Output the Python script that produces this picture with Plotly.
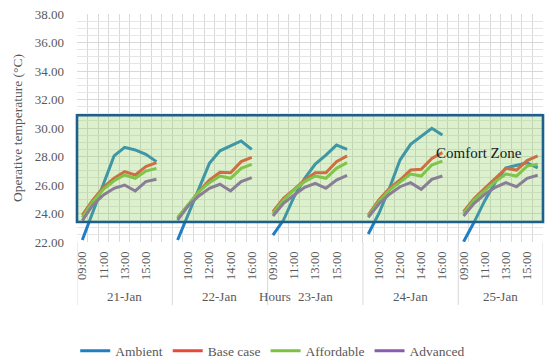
import plotly.graph_objects as go

days = ["21-Jan", "22-Jan", "23-Jan", "24-Jan", "25-Jan"]
hours = ["09:00", "10:00", "11:00", "12:00", "13:00", "14:00", "15:00", "16:00"]
# slots per day (days 21-24 carry an empty 9th slot in the source sheet)
slots_per_day = [9, 9, 9, 9, 8]

ambient = [22.14, 24.1, 26.1, 28.04, 28.64, 28.46, 28.15, 27.64, None,
           22.14, 23.9, 25.7, 27.52, 28.4, 28.74, 29.09, 28.5, None,
           22.49, 23.54, 25.18, 26.47, 27.47, 28.1, 28.8, 28.5, None,
           22.56, 24.0, 25.77, 27.75, 28.85, 29.44, 29.98, 29.51, None,
           22.02, 23.4, 24.9, 26.2, 27.2, 27.4, 27.55, 27.2]
base_case = [23.89, 24.95, 25.84, 26.47, 26.94, 26.70, 27.29, 27.57, None,
             23.66, 24.6, 25.53, 26.35, 26.89, 26.86, 27.64, 27.94, None,
             24.13, 25.06, 25.7, 26.35, 26.86, 26.86, 27.64, 28.04, None,
             23.89, 24.95, 25.77, 26.35, 27.05, 27.1, 27.87, 28.27, None,
             24.13, 25.06, 25.77, 26.47, 27.17, 27.05, 27.71, 28.04]
affordable = [23.73, 24.83, 25.7, 26.3, 26.7, 26.47, 26.98, 27.17, None,
              23.73, 24.67, 25.53, 26.16, 26.63, 26.47, 27.17, 27.45, None,
              24.0, 24.95, 25.65, 26.24, 26.63, 26.47, 27.17, 27.57, None,
              23.82, 24.83, 25.65, 26.24, 26.77, 26.63, 27.4, 27.68, None,
              24.0, 24.95, 25.6, 26.24, 26.77, 26.63, 27.33, 27.45]
advanced = [23.5, 24.6, 25.3, 25.77, 26.0, 25.58, 26.24, 26.4, None,
            23.54, 24.53, 25.23, 25.77, 26.05, 25.58, 26.24, 26.52, None,
            23.82, 24.71, 25.3, 25.84, 26.12, 25.77, 26.35, 26.68, None,
            23.73, 24.67, 25.35, 25.88, 26.16, 25.7, 26.4, 26.63, None,
            23.82, 24.71, 25.35, 25.84, 26.16, 25.88, 26.47, 26.68]

comfort_low, comfort_high = 23.4, 30.9
y_min, y_max = 22, 38

series = [("Ambient", ambient, "#1f7fc4"),
          ("Base case", base_case, "#e8483a"),
          ("Affordable", affordable, "#7cc142"),
          ("Advanced", advanced, "#8a5cb0")]

# build category slot labels
slot_labels = []
day_bounds = []
for d, n in zip(days, slots_per_day):
    start = len(slot_labels)
    for k in range(n):
        slot_labels.append(hours[k] if k < len(hours) else "")
    day_bounds.append((start, len(slot_labels)))
xs = list(range(len(slot_labels)))
n_slots = len(slot_labels)

FONT = "Liberation Serif, serif"
GRID = "#d9d9d9"

fig = go.Figure()
for name, vals, col in series:
    fig.add_trace(go.Scatter(x=xs, y=vals, mode="lines", name=name,
                             line=dict(color=col, width=3),
                             connectgaps=False))

tick_idx = [i for i in xs if i % 2 == 0]
fig.update_xaxes(range=[-0.5, n_slots - 0.5], tickmode="array",
                 tickvals=tick_idx, ticktext=[slot_labels[i] for i in tick_idx],
                 tickangle=-90, showgrid=False, zeroline=False, showline=False,
                 ticks="", ticklabelstandoff=6,
                 tickfont=dict(family=FONT, size=12.5, color="#595959"),
                 minor=dict(tickmode="linear", tick0=-0.5, dtick=1, showgrid=True,
                            gridcolor=GRID, gridwidth=1, ticks=""))
fig.update_yaxes(range=[y_min, y_max], dtick=2, tickformat=".2f",
                 showgrid=True, gridcolor=GRID, zeroline=False, showline=False,
                 ticks="", ticklabelstandoff=12,
                 tickfont=dict(family=FONT, size=13, color="#595959"),
                 title=dict(text="Operative temperature (°C)", standoff=9,
                            font=dict(family=FONT, size=13.5, color="#595959")),
                 minor=dict(dtick=0.5, showgrid=True, gridcolor="#e6e6e6", gridwidth=1))

shapes = []
# comfort zone overlay
shapes.append(dict(type="rect", xref="paper", yref="y", x0=0, x1=1,
                   y0=comfort_low, y1=comfort_high, layer="above",
                   fillcolor="rgba(140,205,90,0.30)",
                   line=dict(color="#1f5f8b", width=2.6)))
# day separators extending below the axis
sep_positions = [b[0] - 0.5 for b in day_bounds] + [n_slots - 0.5]
for sx in sep_positions:
    shapes.append(dict(type="line", xref="x", yref="paper", x0=sx, x1=sx,
                       y0=0, y1=-0.276, line=dict(color="#d9d9d9", width=1)))

annotations = []
for d, (s, e) in zip(days, day_bounds):
    annotations.append(dict(x=(s + e - 1) / 2, xref="x", y=-0.241, yref="paper",
                            text=d, showarrow=False, xanchor="center", yanchor="middle",
                            font=dict(family=FONT, size=13, color="#595959")))
annotations.append(dict(x=0.4245, xref="paper", y=-0.241, yref="paper",
                        text="Hours", showarrow=False, xanchor="center", yanchor="middle",
                        font=dict(family=FONT, size=13, color="#595959")))
annotations.append(dict(x=0.8625, xref="paper", y=28.25, yref="y",
                        text="Comfort Zone", showarrow=False,
                        xanchor="center", yanchor="middle",
                        font=dict(family=FONT, size=15, color="#1a1a1a")))

fig.update_layout(width=550, height=363,
                  margin=dict(l=77, r=7, t=14, b=121, autoexpand=False),
                  font=dict(family=FONT, color="#595959"),
                  plot_bgcolor="white", paper_bgcolor="white",
                  shapes=shapes, annotations=annotations,
                  showlegend=True,
                  legend=dict(orientation="h", x=0.42, xanchor="center",
                              y=-0.478, yanchor="middle",
                              font=dict(family=FONT, size=13.5, color="#595959"),
                              itemwidth=30, tracegroupgap=0))

fig.write_html("out.html", config={"displayModeBar": False},
               post_script="document.body.style.margin='0';document.body.style.overflow='hidden';")
